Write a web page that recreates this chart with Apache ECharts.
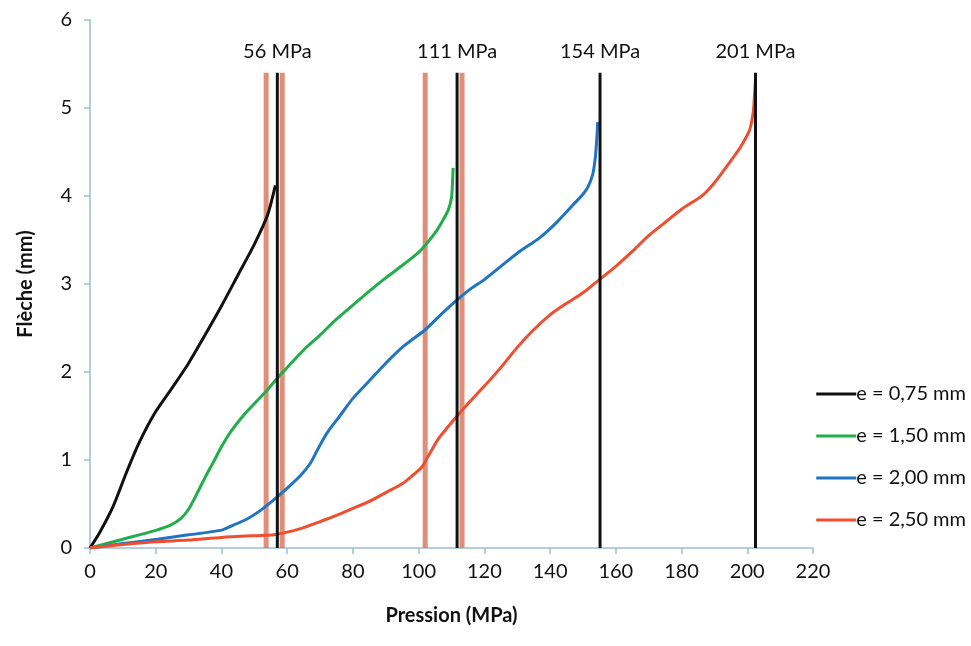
<!DOCTYPE html>
<html><head><meta charset="utf-8">
<script src="https://cdn.jsdelivr.net/npm/echarts@6/dist/echarts.min.js"></script>
<style>html,body{margin:0;padding:0;background:#fff}#c{width:971px;height:646px}</style>
</head><body><div id="c"></div>
<script>
const seriesNames = ['e = 0,75 mm','e = 1,50 mm','e = 2,00 mm','e = 2,50 mm'];
const e075 = [[0,0],[3,0.18],[7,0.47],[11,0.85],[15,1.2],[20,1.55],[25,1.82],[30,2.1],[35,2.42],[40,2.75],[45,3.1],[50,3.45],[54,3.78],[56.4,4.12]];
const e150 = [[0,0],[10,0.1],[20,0.2],[24.5,0.26],[27.5,0.33],[30,0.44],[32.7,0.63],[35,0.8],[37.6,0.98],[40,1.15],[43,1.33],[47,1.52],[50,1.64],[53.6,1.78],[57,1.93],[60,2.05],[65,2.25],[70,2.42],[75,2.6],[80,2.76],[85,2.92],[90,3.07],[95,3.21],[100,3.36],[102,3.44],[105,3.58],[107,3.7],[109,3.84],[110,3.98],[110.3,4.15],[110.5,4.32]];
const e200 = [[0,0],[10,0.05],[20.5,0.1],[30,0.15],[39.7,0.2],[43,0.25],[47.8,0.33],[52,0.43],[57,0.58],[60,0.68],[64,0.82],[67,0.96],[69,1.1],[72,1.3],[76,1.5],[80,1.7],[85,1.9],[90,2.1],[95,2.28],[102,2.48],[107,2.66],[111.7,2.82],[116,2.95],[120,3.05],[125,3.2],[130,3.35],[137,3.53],[142,3.7],[147,3.9],[150,4.02],[151.5,4.1],[153,4.25],[153.8,4.45],[154.2,4.65],[154.5,4.84]];
const e250 = [[0,0],[10,0.04],[20,0.07],[30,0.09],[40,0.12],[50,0.14],[56,0.15],[60,0.18],[64,0.22],[70,0.3],[75,0.37],[80,0.45],[85,0.53],[90,0.63],[95,0.73],[98,0.82],[101,0.92],[103,1.05],[106,1.24],[109,1.38],[111.7,1.5],[115,1.64],[120,1.84],[125,2.05],[130,2.28],[135,2.48],[140,2.65],[145,2.78],[150,2.9],[155,3.05],[160,3.2],[165,3.37],[170,3.55],[175,3.7],[180,3.85],[186.5,4.01],[190,4.15],[195,4.4],[198,4.56],[200.7,4.75],[201.8,4.95],[202.2,5.15],[202.5,5.32]];
const blackLines = [57, 111.7, 155.2, 202.5];
const redLines = [53.6, 58.5, 102, 113.2];
const lineTop = 5.4;
const pressureLabels = ['56 MPa','111 MPa','154 MPa','201 MPa'];
const labelY = 5.64;
const colors = ['#111111','#22ad4b','#1f74c4','#f04e2f'];

const font = 'Lato, "Open Sans", sans-serif';
const series = [];
redLines.forEach(x => series.push({type:'line', data:[[x,0],[x,lineTop]], symbol:'none', silent:true,
  lineStyle:{color:'#dc7a60', width:5, opacity:0.85}, z:1}));
blackLines.forEach(x => series.push({type:'line', data:[[x,0],[x,lineTop]], symbol:'none', silent:true,
  lineStyle:{color:'#111', width:3}, z:3}));
[e075,e150,e200,e250].forEach((d,i) => series.push({name:seriesNames[i], type:'line', data:d, symbol:'none', smooth:0.25,
  lineStyle:{color:colors[i], width:3}, itemStyle:{color:colors[i]}, z:2}));
series.push({type:'scatter', symbolSize:0, silent:true, z:5, itemStyle:{opacity:1},
  data: blackLines.map((x,i)=>({value:[x,labelY], label:{show:true, formatter:pressureLabels[i], color:'#111', opacity:1}})),
  label:{position:'inside', color:'#111', fontSize:20, fontFamily:font}});

const chart = echarts.init(document.getElementById('c'));
chart.setOption({
  animation:false,
  grid:{left:90, right:158, top:20, bottom:98},
  legend:{orient:'vertical', right:0, top:379, itemGap:22, itemWidth:40, itemHeight:3,
    icon:'rect', data:seriesNames, textStyle:{fontSize:20, color:'#111', fontFamily:font, padding:[0,0,0,-5]}},
  xAxis:{type:'value', min:0, max:220, interval:20, name:'Pression (MPa)', nameLocation:'middle', nameGap:58,
    nameTextStyle:{fontSize:20, fontWeight:'bold', color:'#111', fontFamily:font},
    axisLine:{show:true, lineStyle:{color:'#9dbcd8', width:1.5}}, axisTick:{show:true, length:6, lineStyle:{color:'#9dbcd8', width:1.5}},
    axisLabel:{fontSize:20, color:'#111', fontFamily:font, margin:14}, splitLine:{show:false}},
  yAxis:{type:'value', min:0, max:6, interval:1, name:'Flèche (mm)', nameLocation:'middle', nameGap:54,
    nameTextStyle:{fontSize:20, fontWeight:'bold', color:'#111', fontFamily:font},
    axisLine:{show:true, lineStyle:{color:'#9dbcd8', width:1.5}}, axisTick:{show:true, length:6, lineStyle:{color:'#9dbcd8', width:1.5}},
    axisLabel:{fontSize:20, color:'#111', fontFamily:font, margin:18}, splitLine:{show:false}},
  series: series
});
</script></body></html>
